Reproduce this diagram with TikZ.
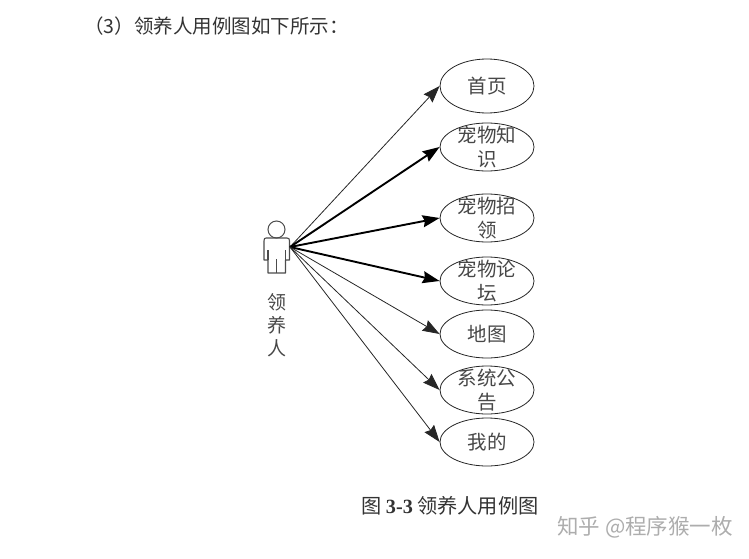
\documentclass[tikz,border=0pt]{standalone}
\usepackage{fontspec}
\usetikzlibrary{shapes.geometric,arrows.meta}
\newfontfamily\cjk{Noto Sans CJK SC}
\newfontfamily\latinserif{Liberation Serif}
\tikzset{
 uc/.style={draw=black!85,line width=0.8pt,ellipse,minimum width=94pt,minimum height=48pt,inner sep=0pt},
 uctext/.style={font=\cjk\fontsize{19.5}{24}\selectfont,text=black!72,align=center,inner sep=0pt},
 assoc/.style={draw=black!85,line width=0.8pt,-{Stealth[length=17pt,width=12pt,inset=2pt]}},
 assocbold/.style={assoc,draw=black,line width=1.9pt},
 body/.style={draw=black!70,line width=1.1pt,line join=round},
 plain/.style={inner sep=0pt,text=black!80},
}
\begin{document}
\begin{tikzpicture}[x=1pt,y=-1pt]
\useasboundingbox (0,0) rectangle (749,559);
\node[plain,anchor=west,font=\cjk\fontsize{19.5}{22}\selectfont] (head) at (84,26) {（3）领养人用例图如下所示：};
% actor
\node[draw=black!70,line width=1pt,circle,minimum size=17pt,inner sep=0pt] (headc) at (276.5,229.5) {};
\draw[body] (266,238) -- (287,238) .. controls (289,238) and (289.5,239) .. (289.5,241) -- (289.5,260) -- (285.5,260) -- (285.5,273) -- (268,273) -- (268,260) -- (264,260) -- (264,241) .. controls (264,239) and (264.5,238) .. (266,238) -- cycle;
\draw[body] (268,250) -- (268,260) (285.5,250) -- (285.5,260) (276.5,259) -- (276.5,273);
\coordinate (actor) at (290,247);
\node[plain,font=\cjk\fontsize{19}{23}\selectfont,align=center,text=black!72] (alabel) at (277,325) {领\\养\\人};
% use cases
\node[uc,minimum height=54pt,label={[uctext]center:首页}] (e1) at (487,86) {};
\node[uc,label={[uctext]center:宠物知\\识}] (e2) at (487,147) {};
\node[uc,label={[uctext]center:宠物招\\领}] (e3) at (487,218) {};
\node[uc,label={[uctext]center:宠物论\\坛}] (e4) at (487,281) {};
\node[uc,label={[uctext]center:地图}] (e5) at (487,334) {};
\node[uc,label={[uctext]center:系统公\\告}] (e6) at (487,390) {};
\node[uc,label={[uctext]center:我的}] (e7) at (487,442) {};
\draw[assoc] (actor) -- (e1.west);
\draw[assocbold] (actor) -- (e2.west);
\draw[assocbold] (actor) -- (e3.west);
\draw[assocbold] (actor) -- (e4.west);
\draw[assoc] (actor) -- (e5.west);
\draw[assoc] (actor) -- (e6.west);
\draw[assoc] (actor) -- (e7.west);
\node[plain,anchor=west,font=\fontsize{20.2}{22}\selectfont] (cap) at (361,506) {\cjk 图 {\latinserif\bfseries 3-3} 领养人用例图};
\node[inner sep=0pt,anchor=west,text=black!32,font=\cjk\fontsize{21.5}{24}\selectfont] (mark) at (557,527) {知乎 @程序猴一枚};
\end{tikzpicture}
\end{document}
